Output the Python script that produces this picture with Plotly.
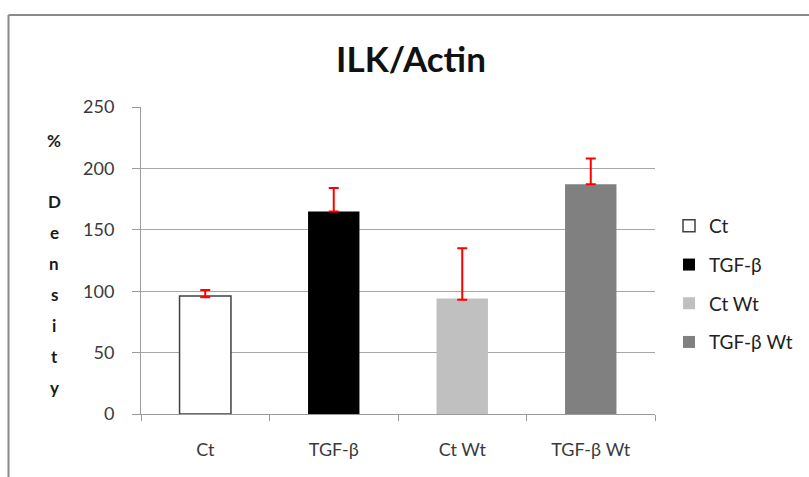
import plotly.graph_objects as go

# ---- data ----
categories = ["Ct", "TGF-β", "Ct Wt", "TGF-β Wt"]
values = [96, 165, 94, 187]
err_plus = [5, 19, 41, 21]
err_minus = [1, 0, 1, 0]
bar_colors = ["#ffffff", "#000000", "#c0c0c0", "#808080"]
line_colors = ["#404040", "#000000", "#c0c0c0", "#808080"]
y_ticks = [0, 50, 100, 150, 200, 250]
title_text = "ILK/Actin"
y_label_lines = ["%", ""] + list("Density")

# ---- layout geometry (pixels) ----
W, H = 809, 477
L, R, T, B = 141, 154, 107, 63
PW, PH = W - L - R, H - T - B

def px_x(p):
    return (p - L) / PW

def px_y(p):
    return (H - B - p) / PH

FONT = "Lato, 'Open Sans', sans-serif"

fig = go.Figure()
for i, cat in enumerate(categories):
    fig.add_trace(go.Bar(
        x=[cat], y=[values[i]], name=cat,
        legendgroup=cat,
        marker=dict(color=bar_colors[i], line=dict(color=line_colors[i], width=1.5 if i == 0 else 0)),
        width=0.4,
        error_y=dict(type="data", symmetric=False, array=[err_plus[i]], arrayminus=[err_minus[i]],
                     color="#ff0000", thickness=2, width=5),
    ))

shapes = []
# outer frame (top and left lines)
shapes.append(dict(type="line", xref="paper", yref="paper",
                   x0=px_x(8.5), x1=px_x(812), y0=px_y(15), y1=px_y(15),
                   line=dict(color="#8a8a8a", width=2)))
shapes.append(dict(type="line", xref="paper", yref="paper",
                   x0=px_x(8.5), x1=px_x(8.5), y0=px_y(15), y1=px_y(480),
                   line=dict(color="#8a8a8a", width=2)))

annotations = []
ystart, ystep = 140, 30.9
for k, ch in enumerate(y_label_lines):
    if not ch:
        continue
    annotations.append(dict(text=ch, xref="paper", yref="paper",
                            x=px_x(54), y=px_y(ystart + k * ystep),
                            xanchor="center", yanchor="middle", showarrow=False,
                            font=dict(family=FONT, size=17, color="#1a1a1a", weight="bold")))

fig.update_layout(
    width=W, height=H,
    margin=dict(l=L, r=R, t=T, b=B, pad=0),
    paper_bgcolor="#ffffff", plot_bgcolor="#ffffff",
    title=dict(text=title_text, x=411 / W, xref="container", xanchor="center",
               y=1 - 60 / H, yref="container", yanchor="middle",
               font=dict(family=FONT, size=35, color="#111111", weight="bold")),
    font=dict(family=FONT, size=18, color="#3a3a3a"),
    bargap=0.6,
    showlegend=True,
    legend=dict(x=669 / W, xref="container", xanchor="left",
                y=1 - 207 / H, yref="container", yanchor="top",
                traceorder="grouped", tracegroupgap=11,
                font=dict(family=FONT, size=19, color="#222222"),
                bgcolor="rgba(0,0,0,0)"),
    xaxis=dict(showgrid=False, showline=True, linecolor="#9a9a9a", linewidth=1,
               ticks="outside", tickson="boundaries", ticklen=6, tickcolor="#9a9a9a",
               ticklabelstandoff=19, tickfont=dict(size=18, color="#3a3a3a"),
               fixedrange=True),
    yaxis=dict(range=[0, 250], tickvals=y_ticks, showgrid=True, gridcolor="#a6a6a6", gridwidth=1,
               showline=True, linecolor="#9a9a9a", linewidth=1, zeroline=False,
               ticks="outside", ticklen=8, tickcolor="#9a9a9a",
               ticklabelstandoff=14, tickfont=dict(size=18, color="#3a3a3a"),
               fixedrange=True),
    shapes=shapes,
    annotations=annotations,
)

fig.write_html("out.html", config={"displayModeBar": False},
               post_script="document.body.style.margin='0';document.body.style.overflow='hidden';")
